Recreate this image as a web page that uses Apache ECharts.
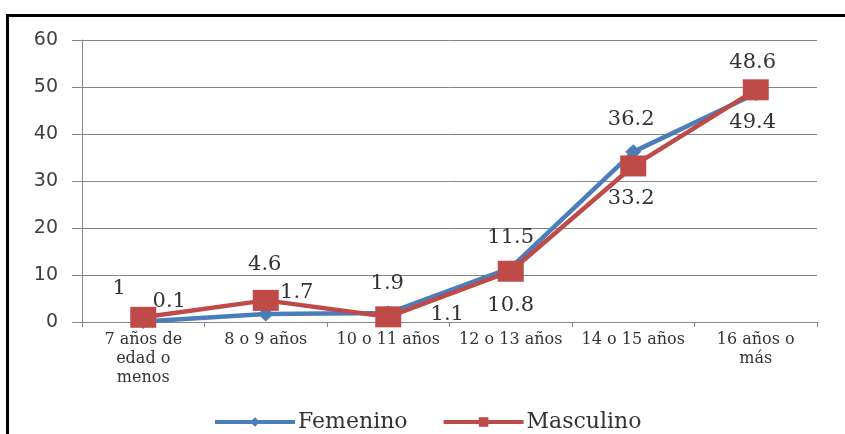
<!DOCTYPE html>
<html>
<head>
<meta charset="utf-8">
<script src="https://cdn.jsdelivr.net/npm/echarts@6/dist/echarts.min.js"></script>
<style>
  html, body { margin: 0; padding: 0; background: #fff; }
  #chart { width: 845px; height: 434px; }
</style>
</head>
<body>
<div id="chart"></div>
<script>
// Age groups (x axis)
const categories = [
  '7 años de\nedad o\nmenos',
  '8 o 9 años',
  '10 o 11 años',
  '12 o 13 años',
  '14 o 15 años',
  '16 años o\nmás'
];

// Series values (%)
const femenino = [0.1, 1.7, 1.9, 11.5, 36.2, 48.6];
const masculino = [1, 4.6, 1.1, 10.8, 33.2, 49.4];

// Value axis ticks
const yTicks = [0, 10, 20, 30, 40, 50, 60];

// Data label offsets from each point's centre, in pixels
const femLabelOffsets = [[26, -20], [31, -21], [-1, -30], [0, -30], [-2, -32], [-3, -31]];
const mascLabelOffsets = [[-24, -29], [-1, -36], [59, -2], [0, 34], [-2, 33], [-3, 33]];

const BLUE = '#4A7EBB';
const RED = '#BE4B48';
const labelFont = {
  fontFamily: 'DejaVu Serif',
  fontSize: 21,
  color: '#333333'
};

function withLabels(values, offsets) {
  return values.map((v, i) => ({
    value: v,
    label: {
      show: true,
      position: 'inside',
      offset: offsets[i],
      align: 'center',
      verticalAlign: 'middle',
      ...labelFont
    }
  }));
}

const chart = echarts.init(document.getElementById('chart'), null, { renderer: 'canvas' });

chart.setOption({
  animation: false,
  backgroundColor: '#ffffff',
  graphic: [{
    type: 'rect',
    left: 5,
    top: 13,
    shape: { width: 900, height: 500 },
    style: { fill: 'none', stroke: '#000000', lineWidth: 3 },
    silent: true,
    z: 100
  }],
  grid: { left: 82, right: 28, top: 40, bottom: 112, containLabel: false },
  legend: {
    top: 406,
    left: 208,
    itemWidth: 80,
    itemHeight: 12,
    itemGap: 34,
    lineStyle: { width: 4 },
    textStyle: { fontFamily: 'DejaVu Serif', fontSize: 22, color: '#333333', padding: [0, 0, 0, -2] },
    data: ['Femenino', 'Masculino']
  },
  xAxis: {
    type: 'category',
    data: categories,
    boundaryGap: true,
    axisLine: { lineStyle: { color: '#868686', width: 1 } },
    axisTick: { show: true, length: 5, interval: 0, lineStyle: { color: '#868686' } },
    axisLabel: {
      interval: 0,
      margin: 8,
      fontFamily: 'DejaVu Serif',
      fontSize: 16,
      lineHeight: 19,
      color: '#333333'
    }
  },
  yAxis: {
    type: 'value',
    min: yTicks[0],
    max: yTicks[yTicks.length - 1],
    interval: yTicks[1] - yTicks[0],
    axisLine: { show: true, lineStyle: { color: '#868686', width: 1 } },
    axisTick: { show: true, length: 10, lineStyle: { color: '#868686' } },
    axisLabel: {
      margin: 24,
      fontFamily: 'DejaVu Sans',
      fontSize: 19,
      color: '#404040'
    },
    splitLine: { show: true, lineStyle: { color: '#868686', width: 1 } }
  },
  series: [
    {
      name: 'Femenino',
      type: 'line',
      data: withLabels(femenino, femLabelOffsets),
      symbol: 'diamond',
      symbolSize: [16, 15],
      lineStyle: { color: BLUE, width: 4.5 },
      itemStyle: { color: BLUE },
      z: 2
    },
    {
      name: 'Masculino',
      type: 'line',
      data: withLabels(masculino, mascLabelOffsets),
      symbol: 'rect',
      symbolSize: [26, 21],
      lineStyle: { color: RED, width: 4.5 },
      itemStyle: { color: RED },
      z: 3
    }
  ]
});
</script>
</body>
</html>
